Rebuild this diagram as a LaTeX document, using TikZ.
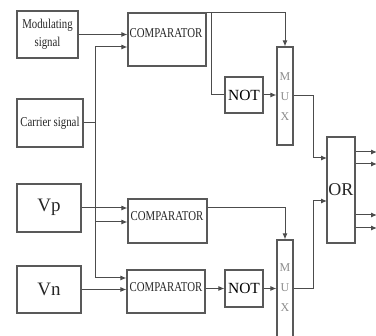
\documentclass[tikz,border=0pt]{standalone}
\usepackage{fontspec}
\setmainfont{Liberation Serif}
\newfontfamily\condfont[FakeStretch=0.8]{Liberation Serif}
\usetikzlibrary{arrows.meta}
\begin{document}
\begin{tikzpicture}[x=1pt, y=-1pt, >={Latex[length=6pt,width=5pt]},
  blk/.style={draw=black!65, line width=1.1pt, inner sep=0pt},
  wire/.style={draw=black!70, line width=1pt},
  small/.style={font=\condfont\fontsize{13.5}{18}\selectfont, text=black!85},
  big/.style={font=\fontsize{19}{22}\selectfont, text=black!85},
  muxtxt/.style={font=\fontsize{12}{20}\selectfont, text=black!45, align=center}]
  \useasboundingbox (0,0) rectangle (376,336);
  \clip (0,0) rectangle (376,336);
  \node[blk, small, minimum width=61, minimum height=47, align=center] (mod) at (47.5,34.5) {Modulating\\signal};
  \node[blk, small, minimum width=66, minimum height=48] (car) at (50,123) {Carrier signal};
  \node[blk, big, minimum width=64, minimum height=48, text depth=6pt] (vp) at (49,208) {Vp};
  \node[blk, big, minimum width=64, minimum height=47] (vn) at (49,289.5) {Vn};
  \node[blk, minimum width=78, minimum height=53] (cmp1) at (167,39.5) {};
  \node[blk, minimum width=79, minimum height=44] (cmp2) at (167.5,221) {};
  \node[blk, minimum width=78, minimum height=43] (cmp3) at (166,291.5) {};
  \node[small] (t1) at (166,33) {COMPARATOR};
  \node[small] (t2) at (167,216) {COMPARATOR};
  \node[small] (t3) at (166,287) {COMPARATOR};
  \node[blk, font=\fontsize{15.5}{18}\selectfont, minimum width=38, minimum height=36] (not1) at (244,95) {NOT};
  \node[blk, font=\fontsize{15.5}{18}\selectfont, minimum width=38, minimum height=37] (not2) at (244,288.5) {NOT};
  \node[blk, minimum width=16, minimum height=98] (mux1) at (285,96) {};
  \node[blk, minimum width=16, minimum height=105] (mux2) at (285,292.5) {};
  \node[muxtxt] (m1) at (285,97) {M\\U\\X};
  \node[muxtxt] (m2) at (285,288) {M\\U\\X};
  \node[blk, big, font=\fontsize{18}{22}\selectfont, minimum width=28, minimum height=106] (or) at (341,190) {OR};
  \coordinate (bt) at (95,47);
  \coordinate (bm) at (95,222);
  \coordinate (bb) at (95,278);
  \coordinate (br) at (211,13);
  \coordinate (in1) at (327,158);
  \coordinate (in2) at (327,201);
  \draw[wire,->] (mod.east) -- (mod.east -| cmp1.west);
  \draw[wire] (car.east) -- (car.east -| bt);
  \draw[wire] (bt) -- (bb);
  \draw[wire,->] (bt) -- (bt -| cmp1.west);
  \draw[wire,->] (bm) -- (bm -| cmp2.west);
  \draw[wire,->] (bb) -- (bb -| cmp3.west);
  \draw[wire,->] (vp.east) -- (vp.east -| cmp2.west);
  \draw[wire,->] (vn.east) -- (vn.east -| cmp3.west);
  \draw[wire,->] (cmp1.north east) -| (mux1.north);
  \draw[wire] (br) |- (not1.west);
  \draw[wire,->] (not1.east) -- (not1.east -| mux1.west);
  \draw[wire,->] (mux1.east) -- ++(20,0) |- (in1);
  \draw[wire,->] (cmp2.east |- vp.east) -| (mux2.north);
  \draw[wire,->] (not2.west -| cmp3.east) -- (not2.west);
  \draw[wire,->] (not2.east) -- (not2.east -| mux2.west);
  \draw[wire,->] (not2.east -| mux2.east) -- ++(20,0) |- (in2);
  \foreach \y in {152,164,215,228}
    \draw[wire,->] (or.east |- 0,\y) -- (377,\y);
\end{tikzpicture}
\end{document}
